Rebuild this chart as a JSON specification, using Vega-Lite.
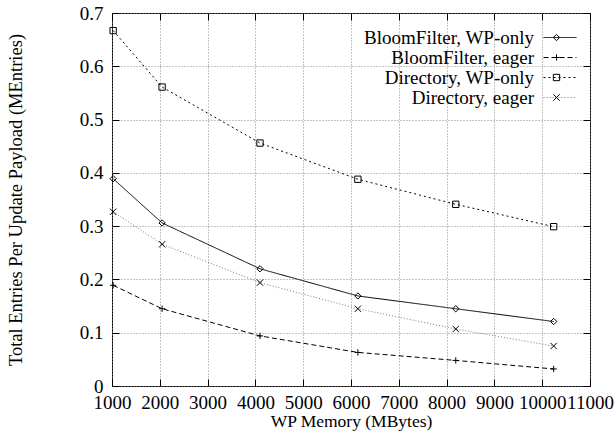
{
  "$schema": "https://vega.github.io/schema/vega-lite/v6.json",
  "width": 478,
  "height": 373,
  "autosize": "none",
  "padding": {"left": 112, "top": 13, "right": 26, "bottom": 49},
  "background": "white",
  "config": {
    "font": "Liberation Serif",
    "view": {"stroke": "black", "strokeWidth": 1},
    "axis": {
      "labelFont": "Liberation Serif",
      "titleFont": "Liberation Serif",
      "labelFontSize": 19,
      "titleFontSize": 17.5,
      "titleFontWeight": "normal",
      "labelColor": "black",
      "titleColor": "black",
      "tickColor": "black",
      "tickWidth": 1,
      "labelOverlap": false,
      "labelFlush": false,
      "domain": false
    },
    "legend": {"labelFont": "Liberation Serif", "labelFontSize": 19, "labelColor": "black", "labelLimit": 300}
  },
  "data": {
    "values": [
      {"x": 1024, "y": 0.389, "series": "BloomFilter, WP-only"},
      {"x": 2048, "y": 0.306, "series": "BloomFilter, WP-only"},
      {"x": 4096, "y": 0.220, "series": "BloomFilter, WP-only"},
      {"x": 6144, "y": 0.169, "series": "BloomFilter, WP-only"},
      {"x": 8192, "y": 0.145, "series": "BloomFilter, WP-only"},
      {"x": 10240, "y": 0.121, "series": "BloomFilter, WP-only"},
      {"x": 1024, "y": 0.189, "series": "BloomFilter, eager"},
      {"x": 2048, "y": 0.145, "series": "BloomFilter, eager"},
      {"x": 4096, "y": 0.094, "series": "BloomFilter, eager"},
      {"x": 6144, "y": 0.063, "series": "BloomFilter, eager"},
      {"x": 8192, "y": 0.048, "series": "BloomFilter, eager"},
      {"x": 10240, "y": 0.032, "series": "BloomFilter, eager"},
      {"x": 1024, "y": 0.667, "series": "Directory, WP-only"},
      {"x": 2048, "y": 0.561, "series": "Directory, WP-only"},
      {"x": 4096, "y": 0.456, "series": "Directory, WP-only"},
      {"x": 6144, "y": 0.388, "series": "Directory, WP-only"},
      {"x": 8192, "y": 0.341, "series": "Directory, WP-only"},
      {"x": 10240, "y": 0.299, "series": "Directory, WP-only"},
      {"x": 1024, "y": 0.327, "series": "Directory, eager"},
      {"x": 2048, "y": 0.266, "series": "Directory, eager"},
      {"x": 4096, "y": 0.194, "series": "Directory, eager"},
      {"x": 6144, "y": 0.145, "series": "Directory, eager"},
      {"x": 8192, "y": 0.107, "series": "Directory, eager"},
      {"x": 10240, "y": 0.075, "series": "Directory, eager"}
    ]
  },
  "layer": [
    {
      "mark": {"type": "line", "strokeWidth": 1},
      "encoding": {
        "x": {
          "field": "x", "type": "quantitative",
          "scale": {"domain": [1000, 11000], "nice": false, "zero": false},
          "axis": {
            "orient": "bottom",
            "values": [1000, 2000, 3000, 4000, 5000, 6000, 7000, 8000, 9000, 10000, 11000],
            "format": "d",
            "tickSize": -7,
            "labelPadding": 14,
            "grid": true, "gridColor": "#888", "gridDash": [1, 2], "gridWidth": 1,
            "title": "WP Memory (MBytes)",
            "titlePadding": 0
          }
        },
        "y": {
          "field": "y", "type": "quantitative",
          "scale": {"domain": [0, 0.7], "nice": false},
          "axis": {
            "orient": "left",
            "values": [0, 0.1, 0.2, 0.3, 0.4, 0.5, 0.6, 0.7],
            "format": ".1~f",
            "tickSize": -7,
            "labelPadding": 16,
            "grid": true, "gridColor": "#888", "gridDash": [1, 2], "gridWidth": 1,
            "title": "Total Entries Per Update Payload (MEntries)",
            "titleFontSize": 18.5,
            "titlePadding": 54
          }
        },
        "color": {
          "field": "series", "type": "nominal",
          "scale": {"domain": ["BloomFilter, WP-only", "BloomFilter, eager", "Directory, WP-only", "Directory, eager"], "range": ["black", "black", "black", "#777777"]},
          "legend": {
            "title": null,
            "orient": "none",
            "legendX": 438.5,
            "legendY": 15,
            "padding": 0,
            "symbolType": "M-3,0L3,0",
            "symbolSize": 121,
            "symbolStrokeWidth": 1,
            "symbolOffset": 0,
            "labelAlign": "right",
            "labelBaseline": "middle",
            "labelOffset": -35.5,
            "rowPadding": 0
          }
        },
        "strokeDash": {
          "field": "series", "type": "nominal",
          "scale": {"domain": ["BloomFilter, WP-only", "BloomFilter, eager", "Directory, WP-only", "Directory, eager"], "range": [[1, 0], [5, 3], [2, 3], [1, 2]]}
        }
      }
    },
    {
      "mark": {"type": "point", "filled": false, "strokeWidth": 1, "opacity": 1, "color": "black"},
      "encoding": {
        "x": {
          "field": "x", "type": "quantitative",
          "axis": {"orient": "top", "values": [1000, 2000, 3000, 4000, 5000, 6000, 7000, 8000, 9000, 10000, 11000], "labels": false, "tickSize": -7, "grid": false, "title": null}
        },
        "y": {
          "field": "y", "type": "quantitative",
          "axis": {"orient": "right", "values": [0, 0.1, 0.2, 0.3, 0.4, 0.5, 0.6, 0.7], "labels": false, "tickSize": -7, "grid": false, "title": null}
        },
        "shape": {
          "field": "series", "type": "nominal",
          "scale": {"domain": ["Directory, eager", "Directory, WP-only", "BloomFilter, eager", "BloomFilter, WP-only"], "range": ["M-1,-1L1,1M-1,1L1,-1", "square", "M-1,0L1,0M0,-1L0,1", "diamond"]},
          "legend": {
            "title": null,
            "orient": "none",
            "legendX": 435,
            "legendY": 15,
            "padding": 0,
            "values": ["BloomFilter, WP-only", "BloomFilter, eager", "Directory, WP-only", "Directory, eager"],
            "symbolSize": 40,
            "symbolStrokeColor": "black",
            "symbolFillColor": "white",
            "symbolStrokeWidth": 1,
            "symbolOffset": 0,
            "labelExpr": "' '",
            "labelBaseline": "middle",
            "rowPadding": 0
          }
        },
        "size": {"value": 40}
      }
    }
  ],
  "resolve": {"axis": {"x": "independent", "y": "independent"}}
}
